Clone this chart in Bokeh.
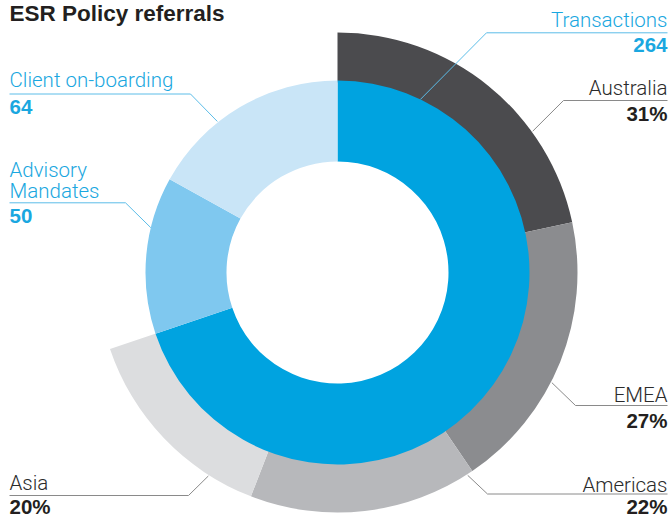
import numpy as np
from bokeh.plotting import figure
from bokeh.models import Range1d, ColumnDataSource
from bokeh.core.properties import value
from bokeh.embed import file_html
from bokeh.resources import INLINE

# ---------------- data ----------------
title_text = "ESR Policy referrals"
inner_categories = ["Transactions", "Advisory Mandates", "Client on-boarding"]
inner_values = [264, 50, 64]
outer_categories = ["Australia", "EMEA", "Americas", "Asia"]
outer_shares = [31, 27, 22, 20]

# ---------------- style ----------------
inner_colors = ["#00a3e0", "#7fc8ef", "#c9e5f7"]
outer_colors = ["#4b4b4e", "#8b8c8f", "#b7b8bb", "#dcdddf"]
blue_text = "#1aa7e0"
dark_text = "#231f20"
LIGHT_FONT = "Roboto Light"
BOLD_FONT = "Liberation Sans"

W, H = 670, 517
CX, CY = 337, 272    # donut centre (layout px, y downward)
R_HOLE, R_MID, R_OUT = 111, 192, 240
BASE_SHIFT = 0.33    # compensation (em) for rendered baseline offset

p = figure(width=W, height=H, output_backend="svg", toolbar_location=None,
           x_range=Range1d(0, W), y_range=Range1d(-H, 0),
           x_axis_location=None, y_axis_location=None, min_border=0,
           background_fill_color="white", border_fill_color="white")
p.grid.visible = False
p.outline_line_color = None

# ---------------- angles ----------------
total = float(sum(inner_values))
inner_span = np.array(inner_values) / total * 2 * np.pi
inner_end = np.pi / 2 - np.concatenate([[0], np.cumsum(inner_span)[:-1]])
inner_start = inner_end - inner_span

trans_span = inner_span[0]
outer_span = np.array(outer_shares) / float(sum(outer_shares)) * trans_span
outer_end = np.pi / 2 - np.concatenate([[0], np.cumsum(outer_span)[:-1]])
outer_start = outer_end - outer_span

outer_src = ColumnDataSource(dict(start=outer_start, end=outer_end, color=outer_colors,
                                  name=outer_categories))
inner_src = ColumnDataSource(dict(start=inner_start, end=inner_end, color=inner_colors,
                                  name=inner_categories))

p.annular_wedge(x=CX, y=-CY, inner_radius=R_MID - 2, outer_radius=R_OUT,
                start_angle="start", end_angle="end", color="color",
                line_color=None, source=outer_src)
p.annular_wedge(x=CX, y=-CY, inner_radius=R_HOLE, outer_radius=R_MID,
                start_angle="start", end_angle="end", color="color",
                line_color=None, source=inner_src)

# ---------------- labels ----------------
NAME_FS = 20.5
VAL_FS = 20.5
TITLE_FS = 22.5

def put_text(x, base, txt, align, font, fs, color, bold=False):
    p.text(x=[x], y=[-(base - BASE_SHIFT * fs)], text=[txt], text_align=align,
           text_baseline="alphabetic", text_font=value(font),
           text_font_style="bold" if bold else "normal",
           text_font_size=f"{fs}px", text_color=color)

# (name lines with baselines, value text, value baseline, align, text x,
#  underline y, elbow x, anchor angle deg, anchor radius, colour set)
label_specs = [
    ([("Transactions", 26)], str(inner_values[0]), 51.7, "right", 667, 32.3, 486, 64.4, R_MID, "blue"),
    ([("Advisory", 176.7), ("Mandates", 197.7)], str(inner_values[1]), 222.7, "left", 9, 202.3, 125, 166.5, R_MID, "blue"),
    ([("Client on-boarding", 86.7)], str(inner_values[2]), 113.4, "left", 9, 93.5, 190, 128.5, R_MID + 1, "blue"),
    ([(outer_categories[0], 94)], f"{outer_shares[0]}%", 120, "right", 667, 100, 563, 35.9, R_OUT + 1, "grey"),
    ([(outer_categories[1], 401.7)], f"{outer_shares[1]}%", 426.7, "right", 667, 405, 575, -27.2, R_OUT + 1, "grey"),
    ([(outer_categories[2], 491)], f"{outer_shares[2]}%", 512.3, "right", 667, 493.5, 487, -57.3, R_OUT + 1, "grey"),
    ([(outer_categories[3], 489.3)], f"{outer_shares[3]}%", 512.3, "left", 9, 495, 188, -122.4, R_OUT + 1, "grey"),
]

for names, val, vbase, align, tx, uy, ex, ang, rad, cset in label_specs:
    name_col = blue_text if cset == "blue" else "#2b2b2b"
    val_col = blue_text if cset == "blue" else dark_text
    line_col = "#5cbde8" if cset == "blue" else "#8a8a8a"
    ax = CX + rad * np.cos(np.radians(ang))
    ay = CY - rad * np.sin(np.radians(ang))
    p.line(x=[tx, ex, ax], y=[-uy, -uy, -ay], line_color=line_col, line_width=1)
    for txt, base in names:
        put_text(tx, base, txt, align, LIGHT_FONT, NAME_FS, name_col)
    put_text(tx, vbase, val, align, BOLD_FONT, VAL_FS, val_col, bold=True)

put_text(9, 20.5, title_text, "left", BOLD_FONT, TITLE_FS, dark_text, bold=True)

open("out.html", "w").write(file_html(p, INLINE))
